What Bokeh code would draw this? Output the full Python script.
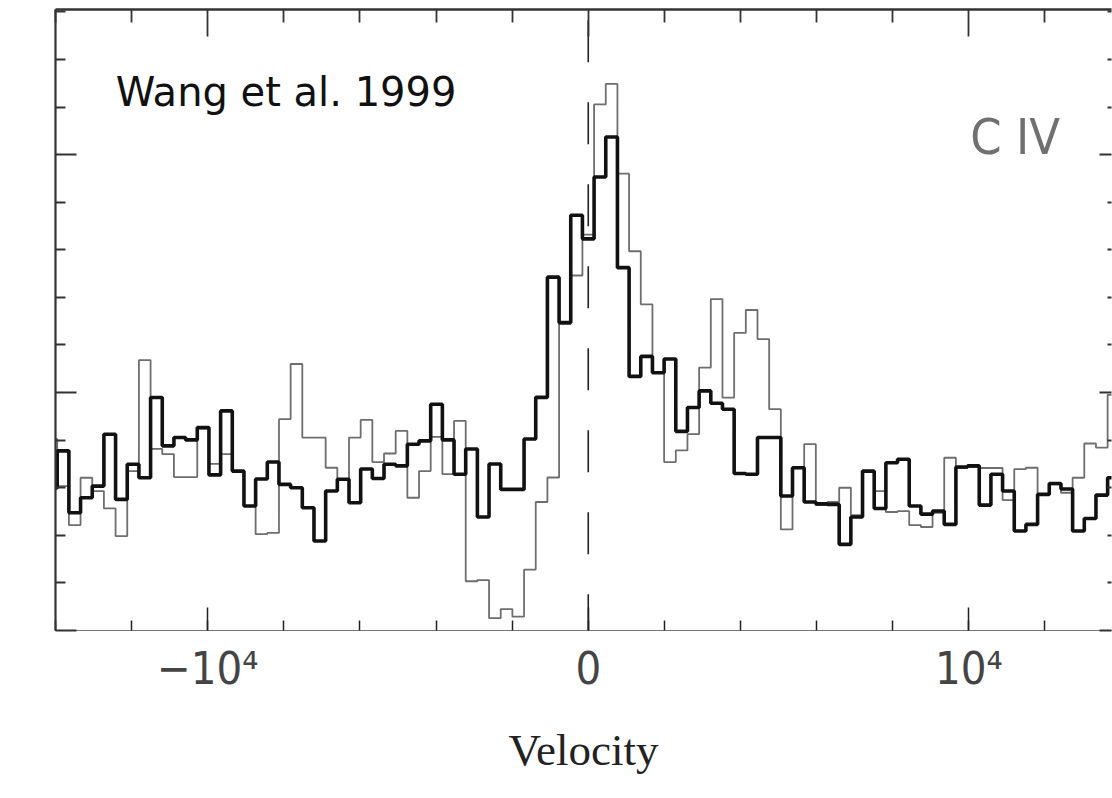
from bokeh.plotting import figure
from bokeh.models import Range1d, LinearAxis, FixedTicker, Label
from bokeh.embed import file_html
from bokeh.resources import INLINE

# ---- data -------------------------------------------------------------
BIN_WIDTH = 306.7          # km/s per bin
FIRST_BIN = -46            # index of first bin (bin centre = index * BIN_WIDTH)

# thick black histogram (one value per bin, starting at FIRST_BIN)
BLACK = [
    0.599, 0.755, 0.495, 0.558, 0.607, 0.825, 0.551, 0.699, 0.642, 0.979,
    0.776, 0.811, 0.801, 0.853, 0.654, 0.923, 0.670, 0.523, 0.637, 0.708,
    0.614, 0.600, 0.516, 0.376, 0.586, 0.636, 0.537, 0.679, 0.639, 0.699,
    0.692, 0.783, 0.797, 0.951, 0.801, 0.657, 0.763, 0.477, 0.700, 0.593,
    0.593, 0.805, 0.980, 1.485, 1.294, 1.745, 1.646, 1.906, 2.074, 1.525,
    1.068, 1.152, 1.083, 1.141, 0.837, 0.937, 1.007, 0.955, 0.930, 0.660,
    0.657, 0.811, 0.811, 0.565, 0.684, 0.540, 0.532, 0.530, 0.362, 0.477,
    0.670, 0.513, 0.705, 0.720, 0.523, 0.489, 0.502, 0.446, 0.687, 0.692,
    0.527, 0.657, 0.586, 0.418, 0.446, 0.572, 0.618, 0.595, 0.418, 0.471,
    0.569, 0.642,
]

# thin grey histogram
GREY = [
    0.805, 0.607, 0.443, 0.642, 0.586, 0.513, 0.397, 0.670, 1.136, 0.763,
    0.741, 0.645, 0.645, 0.847, 0.700, 0.741, 0.670, 0.523, 0.405, 0.410,
    0.888, 1.120, 0.811, 0.811, 0.684, 0.636, 0.811, 0.885, 0.708, 0.744,
    0.839, 0.558, 0.670, 0.814, 0.657, 0.881, 0.207, 0.212, 0.052, 0.090,
    0.058, 0.256, 0.540, 0.643, 1.289, 1.492, 1.664, 2.211, 2.297, 1.920,
    1.594, 1.371, 1.086, 0.708, 0.757, 0.825, 1.105, 1.393, 0.979, 1.251,
    1.347, 1.225, 0.930, 0.425, 0.684, 0.783, 0.527, 0.540, 0.600, 0.485,
    0.670, 0.586, 0.498, 0.502, 0.443, 0.435, 0.494, 0.726, 0.683, 0.687,
    0.683, 0.683, 0.548, 0.678, 0.684, 0.572, 0.614, 0.579, 0.642, 0.786,
    0.769, 0.990,
]

X_MAJOR = [-10000, 0, 10000]
X_LABELS = {-10000: "\u221210\u2074", 0: "0", 10000: "10\u2074"}
X_MINOR_STEP = 2000
Y_MAJOR = [0, 1, 2]
Y_MINOR_STEP = 0.2

X_START, X_END = -14000, 13750
Y_START, Y_END = 0, 2.61

# ---- figure -----------------------------------------------------------
p = figure(width=1112, height=798, output_backend="svg", toolbar_location=None,
           x_range=Range1d(X_START, X_END), y_range=Range1d(Y_START, Y_END),
           x_axis_location=None, y_axis_location=None,
           min_border_left=55, min_border_right=1, min_border_top=9,
           min_border_bottom=168)
p.outline_line_color = None
p.grid.visible = False
p.background_fill_color = "white"
p.border_fill_color = "white"

x_minor = [i * X_MINOR_STEP for i in range(-7, 8)]
y_minor = [round(i * Y_MINOR_STEP, 3) for i in range(0, 14)]
x_minor_only = [t for t in x_minor if t not in X_MAJOR]
y_minor_only = [t for t in y_minor if t not in Y_MAJOR]


def tick_axis(ticks, length, color="#333333", width=1.8, line=None):
    """Axis that draws only inward ticks (no labels)."""
    ax = LinearAxis(ticker=FixedTicker(ticks=[], minor_ticks=ticks))
    ax.minor_tick_in = length
    ax.minor_tick_out = 0
    ax.major_tick_in = 0
    ax.major_tick_out = 0
    ax.minor_tick_line_color = color
    ax.minor_tick_line_width = width
    ax.major_label_standoff = 0
    if line is None:
        ax.axis_line_color = None
    else:
        ax.axis_line_color = line[0]
        ax.axis_line_width = line[1]
    return ax


# bottom axis (labelled)
xb = LinearAxis(ticker=FixedTicker(ticks=X_MAJOR, minor_ticks=x_minor),
                major_label_overrides=X_LABELS, axis_label="Velocity")
xb.axis_line_color = "#777777"
xb.axis_line_width = 1.2
xb.major_tick_in = 23
xb.major_tick_out = 0
xb.minor_tick_in = 10
xb.minor_tick_out = 0
xb.major_tick_line_color = "#222222"
xb.minor_tick_line_color = "#222222"
xb.major_tick_line_width = 1.5
xb.minor_tick_line_width = 1.5
xb.major_label_text_font = "DejaVu Sans Condensed"
xb.major_label_text_font_size = "45px"
xb.major_label_text_color = "#444444"
xb.major_label_standoff = 11
xb.axis_label_text_font = "Liberation Serif"
xb.axis_label_text_font_size = "45px"
xb.axis_label_text_font_style = "normal"
xb.axis_label_text_color = "#222222"
xb.axis_label_standoff = 27
p.add_layout(xb, "below")

# top axis: frame line + long ticks at majors, short ticks at minors
p.add_layout(tick_axis(X_MAJOR, 27, line=("#333333", 2.5)), "above")
p.add_layout(tick_axis(x_minor_only, 13), "above")

# left axis (its labels are cropped off in the reference)
p.add_layout(tick_axis(Y_MAJOR, 21, line=("#333333", 2.2)), "left")
p.add_layout(tick_axis(y_minor_only, 10), "left")

# right axis: only inward ticks are visible at the image edge
p.add_layout(tick_axis(Y_MAJOR, 12), "right")
p.add_layout(tick_axis(y_minor_only, 4), "right")

# ---- histograms (drawn as steps over bin edges) -----------------------
n = len(BLACK)
edges = [(FIRST_BIN + i - 0.5) * BIN_WIDTH for i in range(n + 1)]
p.step(edges, GREY + [GREY[-1]], mode="after", line_color="#6e6e6e", line_width=1.8)
p.step(edges, BLACK + [BLACK[-1]], mode="after", line_color="#111111", line_width=3.6)

# dashed zero-velocity line
p.line([0, 0], [2.565, 0], line_color="#222222", line_width=1.6, line_dash="42 40")

# ---- annotations ------------------------------------------------------
p.add_layout(Label(x=-12420, y=2.265, text="Wang et al. 1999",
                   text_font="DejaVu Sans", text_font_size="40px",
                   text_color="#111111", text_baseline="alphabetic"))
p.add_layout(Label(x=10040, y=2.075, text="C IV",
                   text_font="DejaVu Sans Condensed", text_font_size="50px",
                   text_color="#707070", text_baseline="alphabetic"))

open("out.html", "w").write(file_html(p, INLINE))
